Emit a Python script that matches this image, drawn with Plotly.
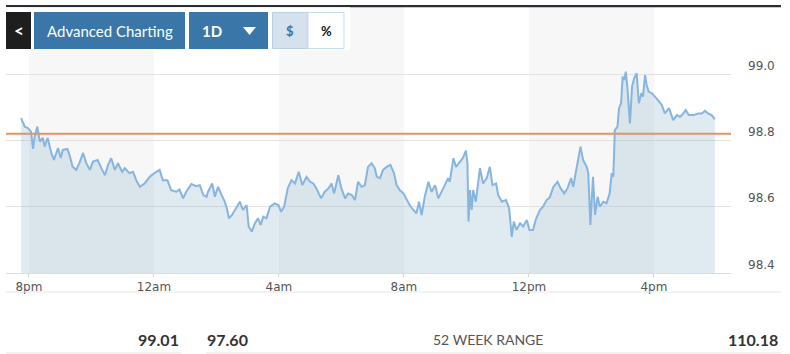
import pandas as pd
import plotly.graph_objects as go

# ---- data (minutes after 8pm, price) ----
minutes = [
    -15, -8, -2, 4, 8, 11, 16, 21, 27, 30,
    36, 43, 48, 56, 61, 65, 74, 78, 84, 91,
    97, 104, 110, 117, 123, 132, 139, 146, 152, 158,
    165, 171, 179, 184, 193, 200, 206, 213, 222, 232,
    241, 251, 257, 266, 273, 283, 289, 296, 302, 312,
    321, 328, 335, 341, 344, 352, 357, 363, 370, 376,
    380, 384, 390, 399, 405, 411, 418, 422, 428, 434,
    440, 445, 450, 456, 463, 472, 479, 484, 490, 497,
    504, 511, 518, 525, 533, 540, 546, 552, 561, 568,
    575, 581, 586, 594, 600, 607, 613, 620, 626, 632,
    639, 645, 651, 658, 664, 668, 674, 680, 687, 694,
    701, 706, 712, 719, 725, 731, 738, 744, 749, 754,
    760, 767, 773, 780, 786, 792, 799, 805, 808, 815,
    820, 826, 833, 839, 842, 844, 847, 850, 853, 858,
    866, 872, 879, 885, 890, 897, 901, 908, 916, 922,
    927, 931, 936, 943, 949, 956, 961, 968, 973, 981,
    987, 994, 1000, 1007, 1015, 1021, 1028, 1034, 1041, 1045,
    1052, 1059, 1064, 1071, 1074, 1078, 1083, 1087, 1092, 1096,
    1103, 1109, 1115, 1119, 1122, 1125, 1130, 1133, 1137, 1140,
    1143, 1146, 1149, 1154, 1158, 1162, 1167, 1171, 1176, 1179,
    1183, 1186, 1190, 1196, 1202, 1208, 1215, 1221, 1229, 1237,
    1244, 1250, 1254, 1261, 1267, 1276, 1285, 1292, 1298, 1304,
    1311, 1317,
]
prices = [
    98.867, 98.841, 98.837, 98.826, 98.774, 98.811, 98.841, 98.796, 98.807, 98.781,
    98.807, 98.762, 98.741, 98.777, 98.747, 98.771, 98.774, 98.756, 98.720, 98.711,
    98.732, 98.762, 98.732, 98.711, 98.736, 98.741, 98.716, 98.695, 98.726, 98.746,
    98.711, 98.731, 98.705, 98.716, 98.701, 98.705, 98.680, 98.660, 98.670, 98.690,
    98.701, 98.711, 98.680, 98.680, 98.650, 98.645, 98.652, 98.625, 98.645, 98.668,
    98.662, 98.665, 98.635, 98.630, 98.645, 98.670, 98.630, 98.660, 98.635, 98.615,
    98.595, 98.565, 98.575, 98.600, 98.615, 98.590, 98.605, 98.540, 98.525, 98.550,
    98.565, 98.545, 98.570, 98.565, 98.600, 98.610, 98.605, 98.585, 98.600, 98.655,
    98.680, 98.670, 98.705, 98.665, 98.690, 98.675, 98.670, 98.655, 98.625, 98.645,
    98.655, 98.670, 98.640, 98.695, 98.655, 98.625, 98.640, 98.635, 98.620, 98.675,
    98.660, 98.665, 98.720, 98.731, 98.716, 98.690, 98.686, 98.711, 98.720, 98.726,
    98.701, 98.665, 98.650, 98.640, 98.620, 98.605, 98.590, 98.580, 98.615, 98.575,
    98.630, 98.675, 98.645, 98.665, 98.625, 98.645, 98.665, 98.686, 98.675, 98.746,
    98.720, 98.731, 98.746, 98.769, 98.731, 98.555, 98.650, 98.590, 98.650, 98.615,
    98.716, 98.670, 98.686, 98.720, 98.665, 98.670, 98.635, 98.615, 98.620, 98.595,
    98.509, 98.555, 98.530, 98.550, 98.540, 98.560, 98.530, 98.530, 98.560, 98.590,
    98.600, 98.620, 98.628, 98.660, 98.675, 98.655, 98.640, 98.655, 98.686, 98.660,
    98.720, 98.781, 98.741, 98.720, 98.701, 98.545, 98.690, 98.575, 98.630, 98.600,
    98.615, 98.610, 98.640, 98.701, 98.690, 98.831, 98.841, 98.897, 98.912, 98.992,
    98.982, 99.007, 98.962, 98.851, 98.962, 98.987, 99.002, 98.912, 98.942, 98.932,
    98.997, 98.967, 98.947, 98.942, 98.932, 98.922, 98.907, 98.881, 98.897, 98.861,
    98.876, 98.871, 98.876, 98.891, 98.876, 98.876, 98.881, 98.881, 98.889, 98.881,
    98.876, 98.863,
]
prev_close = 98.82

x_tick_hours = [0, 4, 8, 12, 16]
x_tick_labels = ["8pm", "12am", "4am", "8am", "12pm", "4pm"][:5]
x_tick_hours = [0, 4, 8, 12, 16, 20]
x_tick_labels = ["8pm", "12am", "4am", "8am", "12pm", "4pm"]
shaded_periods = [(0, 4), (8, 12), (16, 20)]  # hours after 8pm
y_ticks = [98.4, 98.6, 98.8, 99.0]
y_tick_labels = ["98.4", "98.6", "98.8", "99.0"]
y_range = [98.4, 99.202]
x_range_min = [-44, 1348]

day_high = "99.01"
week52_low = "97.60"
week52_high = "110.18"
range_label = "52 WEEK RANGE"

# ---- build ----
base = pd.Timestamp("2024-01-01 20:00")
times = [base + pd.Timedelta(minutes=m) for m in minutes]
tickvals = [base + pd.Timedelta(hours=h) for h in x_tick_hours]

W, H = 790, 354
L, R, T, B = 6, 59, 7, 81
pw, ph = W - L - R, H - T - B


def px(x):
    return (x - L) / pw


def py(y):
    return (H - B - y) / ph


fig = go.Figure()
fig.add_trace(go.Scatter(
    x=times, y=prices, mode="lines",
    line=dict(color="#86b5e0", width=2),
    fill="tozeroy", fillcolor="rgba(130,170,200,0.25)",
    hoverinfo="skip", showlegend=False,
))

shapes = []
for a, b in shaded_periods:
    shapes.append(dict(type="rect", xref="x", yref="paper",
                       x0=base + pd.Timedelta(hours=a), x1=base + pd.Timedelta(hours=b),
                       y0=0, y1=1, fillcolor="#f7f7f7", line_width=0, layer="below"))
# previous close line
shapes.append(dict(type="line", xref="paper", yref="y", x0=0, x1=1,
                   y0=prev_close, y1=prev_close,
                   line=dict(color="#e8935c", width=2), layer="above"))
# top dark bar
shapes.append(dict(type="rect", xref="paper", yref="paper",
                   x0=px(6), x1=px(781), y0=py(5), y1=py(7.3),
                   fillcolor="#2a2d33", line_width=0))
# white container behind buttons
shapes.append(dict(type="rect", xref="paper", yref="paper",
                   x0=px(6), x1=px(350), y0=py(7.3), y1=py(50),
                   fillcolor="white", line_width=0, layer="above"))
# buttons
shapes.append(dict(type="rect", xref="paper", yref="paper",
                   x0=px(6), x1=px(31), y0=py(12), y1=py(49),
                   fillcolor="#1e1e1e", line_width=0, layer="above"))
shapes.append(dict(type="rect", xref="paper", yref="paper",
                   x0=px(34), x1=px(185), y0=py(12), y1=py(49),
                   fillcolor="#3a76a7", line_width=0, layer="above"))
shapes.append(dict(type="rect", xref="paper", yref="paper",
                   x0=px(189), x1=px(268), y0=py(12), y1=py(49),
                   fillcolor="#3a76a7", line_width=0, layer="above"))
shapes.append(dict(type="path", xref="paper", yref="paper",
                   path=f"M {px(243)} {py(27)} L {px(256)} {py(27)} L {px(249.5)} {py(35)} Z",
                   fillcolor="white", line_width=0, layer="above"))
shapes.append(dict(type="rect", xref="paper", yref="paper",
                   x0=px(272.5), x1=px(308), y0=py(12.5), y1=py(48.5),
                   fillcolor="#d5e2ee", line=dict(color="#b9cfe3", width=1), layer="above"))
shapes.append(dict(type="rect", xref="paper", yref="paper",
                   x0=px(308), x1=px(344), y0=py(12.5), y1=py(48.5),
                   fillcolor="white", line=dict(color="#c9dbeb", width=1), layer="above"))
# separator lines
shapes.append(dict(type="line", xref="paper", yref="paper",
                   x0=px(6), x1=px(781), y0=py(292), y1=py(292),
                   line=dict(color="#e6e6e6", width=1)))
shapes.append(dict(type="line", xref="paper", yref="paper",
                   x0=px(6), x1=px(181), y0=py(353), y1=py(353),
                   line=dict(color="#e3e3e3", width=1)))
shapes.append(dict(type="line", xref="paper", yref="paper",
                   x0=px(206), x1=px(781), y0=py(353), y1=py(353),
                   line=dict(color="#e3e3e3", width=1)))

ann = []


def text(x, y, s, size, color, xanchor="center", bold=False, family="Lato"):
    ann.append(dict(x=px(x), y=py(y), xref="paper", yref="paper", text=(f"<b>{s}</b>" if bold else s),
                    showarrow=False, xanchor=xanchor, yanchor="middle",
                    font=dict(family=family, size=size, color=color)))


text(18.5, 30.5, "<", 17, "white", bold=True)
text(109.5, 30.5, "Advanced Charting", 15, "white")
text(212, 30.5, "1D", 15, "white", bold=True)
text(290, 30.5, "$", 13, "#3a76a7", bold=True)
text(326, 30.5, "%", 13, "#111", bold=True)
text(181, 339, day_high, 16, "#333", xanchor="right", bold=True)
text(205, 339, week52_low, 16, "#333", xanchor="left", bold=True)
text(488, 339, range_label, 14, "#555")
text(780, 339, week52_high, 16, "#333", xanchor="right", bold=True)

fig.update_layout(
    width=W, height=H,
    margin=dict(l=L, r=R, t=T, b=B),
    paper_bgcolor="white", plot_bgcolor="rgba(0,0,0,0)",
    shapes=shapes, annotations=ann,
    xaxis=dict(
        type="date",
        range=[base + pd.Timedelta(minutes=x_range_min[0]), base + pd.Timedelta(minutes=x_range_min[1])],
        tickvals=tickvals, ticktext=x_tick_labels,
        ticks="outside", ticklen=3, tickcolor="#d5d5d5",
        showline=True, linecolor="#dcdcdc", linewidth=1,
        showgrid=False, zeroline=False,
        tickfont=dict(family="DejaVu Sans", size=12, color="#555"),
    ),
    yaxis=dict(
        side="right", range=y_range,
        tickvals=y_ticks, ticktext=y_tick_labels,
        ticklabelposition="outside top", ticks="", ticklabelstandoff=16,
        showgrid=True, gridcolor="#e2e2e2", gridwidth=1,
        zeroline=False, showline=False,
        tickfont=dict(family="DejaVu Sans", size=12, color="#555"),
    ),
)

fig.write_html("out.html")
